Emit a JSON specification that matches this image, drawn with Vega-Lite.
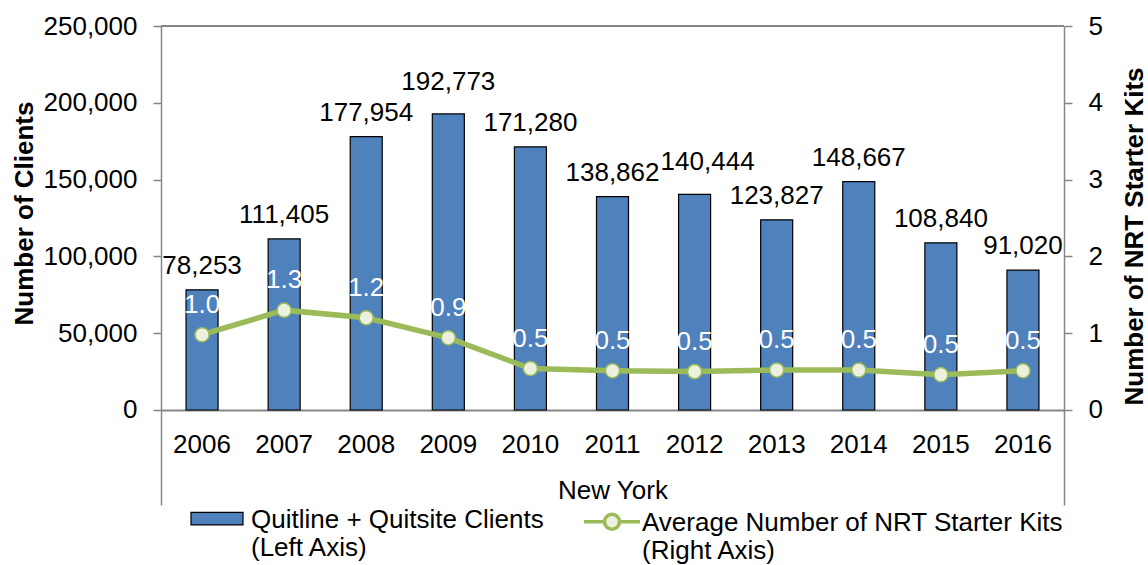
{
  "$schema": "https://vega.github.io/schema/vega-lite/v6.json",
  "autosize": {"type": "none"},
  "width": 903,
  "height": 479,
  "padding": {"left": 161, "top": 26, "right": 84, "bottom": 60},
  "background": "white",
  "config": {
    "font": "Liberation Sans",
    "view": {"stroke": null},
    "axis": {
      "labelFont": "Liberation Sans",
      "titleFont": "Liberation Sans",
      "labelFontSize": 26,
      "titleFontSize": 26,
      "labelColor": "#000",
      "titleColor": "#000",
      "grid": false,
      "domainColor": "#868686",
      "tickColor": "#868686"
    },
    "legend": {
      "labelFont": "Liberation Sans",
      "labelFontSize": 26,
      "labelColor": "#000",
      "labelLimit": 1000,
      "padding": 0
    }
  },
  "data": {
    "values": [
      {"year": "2006", "clients": 78253, "kits": 0.98},
      {"year": "2007", "clients": 111405, "kits": 1.30},
      {"year": "2008", "clients": 177954, "kits": 1.20},
      {"year": "2009", "clients": 192773, "kits": 0.94},
      {"year": "2010", "clients": 171280, "kits": 0.54},
      {"year": "2011", "clients": 138862, "kits": 0.51},
      {"year": "2012", "clients": 140444, "kits": 0.50},
      {"year": "2013", "clients": 123827, "kits": 0.52},
      {"year": "2014", "clients": 148667, "kits": 0.52},
      {"year": "2015", "clients": 108840, "kits": 0.46},
      {"year": "2016", "clients": 91020, "kits": 0.51}
    ]
  },
  "layer": [
    {
      "layer": [
        {
          "mark": {"type": "rule", "color": "#868686", "strokeWidth": 1.5},
          "encoding": {"y": {"datum": 250000, "type": "quantitative"}}
        },
        {
          "mark": {"type": "bar", "stroke": "#000", "strokeWidth": 1.2},
          "encoding": {
            "x": {
              "field": "year",
              "type": "nominal",
              "scale": {"paddingInner": 0.61, "paddingOuter": 0.305},
              "axis": {
                "orient": "bottom",
                "offset": -95,
                "labelAngle": 0,
                "ticks": false,
                "tickSize": 0,
                "domainWidth": 2,
                "labelPadding": 21,
                "title": "New York",
                "titleFontWeight": "normal",
                "titlePadding": 20
              }
            },
            "y": {
              "field": "clients",
              "type": "quantitative",
              "scale": {"domain": [-61849, 250000], "nice": false, "zero": false},
              "axis": {
                "values": [0, 50000, 100000, 150000, 200000, 250000],
                "format": ",.0f",
                "tickSize": 8,
                "tickWidth": 1.5,
                "domainWidth": 1.5,
                "labelPadding": 16,
                "title": "Number of Clients",
                "titleFontWeight": "bold",
                "titleAngle": -90,
                "titleX": -129,
                "titleY": 187,
                "titleAlign": "center",
                "titleBaseline": "alphabetic"
              }
            },
            "fill": {
              "datum": "Quitline + Quitsite Clients",
              "scale": {"range": ["#4F81BD"]},
              "legend": {
                "title": null,
                "orient": "none",
                "legendX": 29,
                "legendY": 475,
                "symbolType": "M-1,-0.6H1V-0.12H-1Z",
                "symbolSize": 2704,
                "symbolStrokeColor": "#000",
                "symbolStrokeWidth": 1.2,
                "labelOffset": 7,
                "labelBaseline": "alphabetic",
                "labelExpr": "[datum.label, '(Left Axis)']"
              }
            }
          }
        },
        {
          "transform": [{"filter": "datum.year != '2009' && datum.year != '2012'"}],
          "mark": {"type": "text", "baseline": "alphabetic", "dy": -16, "fontSize": 26, "color": "#000"},
          "encoding": {
            "x": {"field": "year", "type": "nominal"},
            "y": {"field": "clients", "type": "quantitative"},
            "text": {"field": "clients", "type": "quantitative", "format": ","}
          }
        },
        {
          "transform": [{"filter": "datum.year == '2009'"}],
          "mark": {"type": "text", "baseline": "alphabetic", "dy": -24, "fontSize": 26, "color": "#000"},
          "encoding": {
            "x": {"field": "year", "type": "nominal"},
            "y": {"field": "clients", "type": "quantitative"},
            "text": {"field": "clients", "type": "quantitative", "format": ","}
          }
        },
        {
          "transform": [{"filter": "datum.year == '2012'"}],
          "mark": {"type": "text", "baseline": "alphabetic", "dy": -24, "dx": 13, "fontSize": 26, "color": "#000"},
          "encoding": {
            "x": {"field": "year", "type": "nominal"},
            "y": {"field": "clients", "type": "quantitative"},
            "text": {"field": "clients", "type": "quantitative", "format": ","}
          }
        }
      ]
    },
    {
      "layer": [
        {
          "mark": {"type": "line", "strokeWidth": 5.5},
          "encoding": {
            "x": {"field": "year", "type": "nominal"},
            "y": {
              "field": "kits",
              "type": "quantitative",
              "scale": {"domain": [-1.237, 5], "nice": false, "zero": false},
              "axis": {
                "orient": "right",
                "values": [0, 1, 2, 3, 4, 5],
                "format": "d",
                "tickSize": 8,
                "tickWidth": 1.5,
                "domainWidth": 1.5,
                "labelPadding": 16,
                "title": "Number of NRT Starter Kits",
                "titleFontWeight": "bold",
                "titleAngle": -90,
                "titleX": 78,
                "titleY": 210,
                "titleAlign": "center",
                "titleBaseline": "alphabetic"
              }
            },
            "stroke": {
              "datum": "Average Number of NRT Starter Kits",
              "scale": {"range": ["#9BBB59"]},
              "legend": {
                "title": null,
                "orient": "none",
                "legendX": 421,
                "legendY": 475,
                "symbolType": "M-1,-0.33H-0.27M0.27,-0.33H1M0.27,-0.33A0.27,0.27,0,1,1,-0.27,-0.33A0.27,0.27,0,1,1,0.27,-0.33Z",
                "symbolSize": 3136,
                "symbolFillColor": "#EBF1DE",
                "symbolStrokeWidth": 3.5,
                "labelOffset": 0,
                "labelBaseline": "alphabetic",
                "labelExpr": "[datum.label, '(Right Axis)']"
              }
            }
          }
        },
        {
          "mark": {"type": "point", "filled": true, "fill": "#EBF1DE", "stroke": "#9BBB59", "strokeWidth": 1.5, "size": 200, "opacity": 1},
          "encoding": {
            "x": {"field": "year", "type": "nominal"},
            "y": {"field": "kits", "type": "quantitative"}
          }
        },
        {
          "mark": {"type": "text", "baseline": "alphabetic", "dy": -22, "fontSize": 26, "color": "#FFFFFF"},
          "encoding": {
            "x": {"field": "year", "type": "nominal"},
            "y": {"field": "kits", "type": "quantitative"},
            "text": {"field": "kits", "type": "quantitative", "format": ".1f"}
          }
        }
      ]
    }
  ],
  "resolve": {"scale": {"y": "independent"}}
}
